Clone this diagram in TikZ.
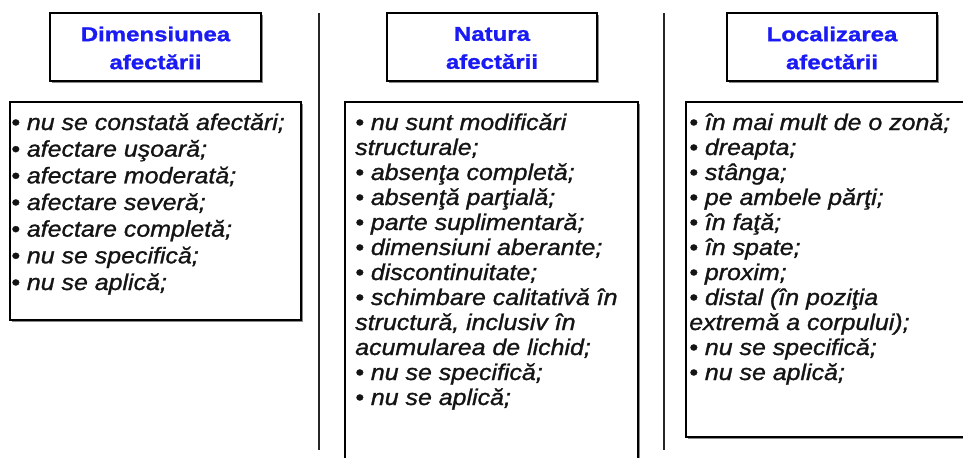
\documentclass[tikz,border=0pt]{standalone}
\usepackage{fontspec}
\setmainfont{Liberation Sans}
\newfontfamily\headfont[FakeStretch=1.2,FakeBold=1.2]{Liberation Sans}
\newfontfamily\listfont[FakeStretch=1.1,FakeBold=1.1]{Liberation Sans}
\usetikzlibrary{fit,shadows}

\definecolor{headblue}{HTML}{1A1AF5}
\definecolor{shadowgray}{HTML}{8A8A8A}
\definecolor{listtext}{HTML}{141414}

% a left-aligned block whose baseline is that of its first line
\newcommand{\itemblock}[1]{\begin{tabular}[t]{@{}l@{}}#1\end{tabular}}

\begin{document}
\begin{tikzpicture}[x=0.75pt,y=-0.75pt,
  frame/.style={rectangle, draw=black, line width=1.5pt, fill=white, inner sep=0pt,
    drop shadow={shadow xshift=1.5pt, shadow yshift=-1.5pt, fill=shadowgray, opacity=1}},
  headtext/.style={align=center, inner sep=0pt, text=headblue,
    font=\headfont\bfseries\fontsize{15pt}{21pt}\selectfont},
  listtext/.style={inner sep=0pt, anchor=base west, text=listtext,
    font=\listfont\itshape\fontsize{17pt}{#1}\selectfont},
  listtext/.default={19pt},
  separator/.style={line width=1.5pt, draw=black!85}
]
\clip (0,0) rectangle (963,457);
\fill[white] (0,0) rectangle (963,457);

% column separators
\coordinate (s1t) at (318.5,13);
\coordinate (s1b) at (318.5,450);
\coordinate (s2t) at (664,13);
\coordinate (s2b) at (664,450);
\draw[separator] (s1t) -- (s1b);
\draw[separator] (s2t) -- (s2b);

% heading boxes
\node[frame, fit={(50,13) (261,81)}] (h1) {};
\node[frame, fit={(387,13) (597,81)}] (h2) {};
\node[frame, fit={(727,13) (937,81)}] (h3) {};
\node[headtext] (h1t) at (155.5,48) {Dimensiunea\\afectării};
\node[headtext] (h2t) at (492,48) {Natura\\afectării};
\node[headtext] (h3t) at (832,48) {Localizarea\\afectării};

% list boxes
\node[frame, fit={(10,102) (301,320)}] (l1) {};
\node[frame, fit={(345,102) (638,480)}] (l2) {};
\node[frame, fit={(686,102) (980,437)}] (l3) {};

\node[listtext=20pt] (l1t) at (11,130) {\itemblock{%
• nu se constată afectări;\\
• afectare uşoară;\\
• afectare moderată;\\
• afectare severă;\\
• afectare completă;\\
• nu se specifică;\\
• nu se aplică;}};

\node[listtext=18.75pt] (l2t) at (355,130) {\itemblock{%
• nu sunt modificări\\
structurale;\\
• absenţa completă;\\
• absenţă parţială;\\
• parte suplimentară;\\
• dimensiuni aberante;\\
• discontinuitate;\\
• schimbare calitativă în\\
structură, inclusiv în\\
acumularea de lichid;\\
• nu se specifică;\\
• nu se aplică;}};

\node[listtext=18.75pt] (l3t) at (689,130) {\itemblock{%
• în mai mult de o zonă;\\
• dreapta;\\
• stânga;\\
• pe ambele părţi;\\
• în faţă;\\
• în spate;\\
• proxim;\\
• distal (în poziţia\\
extremă a corpului);\\
• nu se specifică;\\
• nu se aplică;}};
\end{tikzpicture}
\end{document}
